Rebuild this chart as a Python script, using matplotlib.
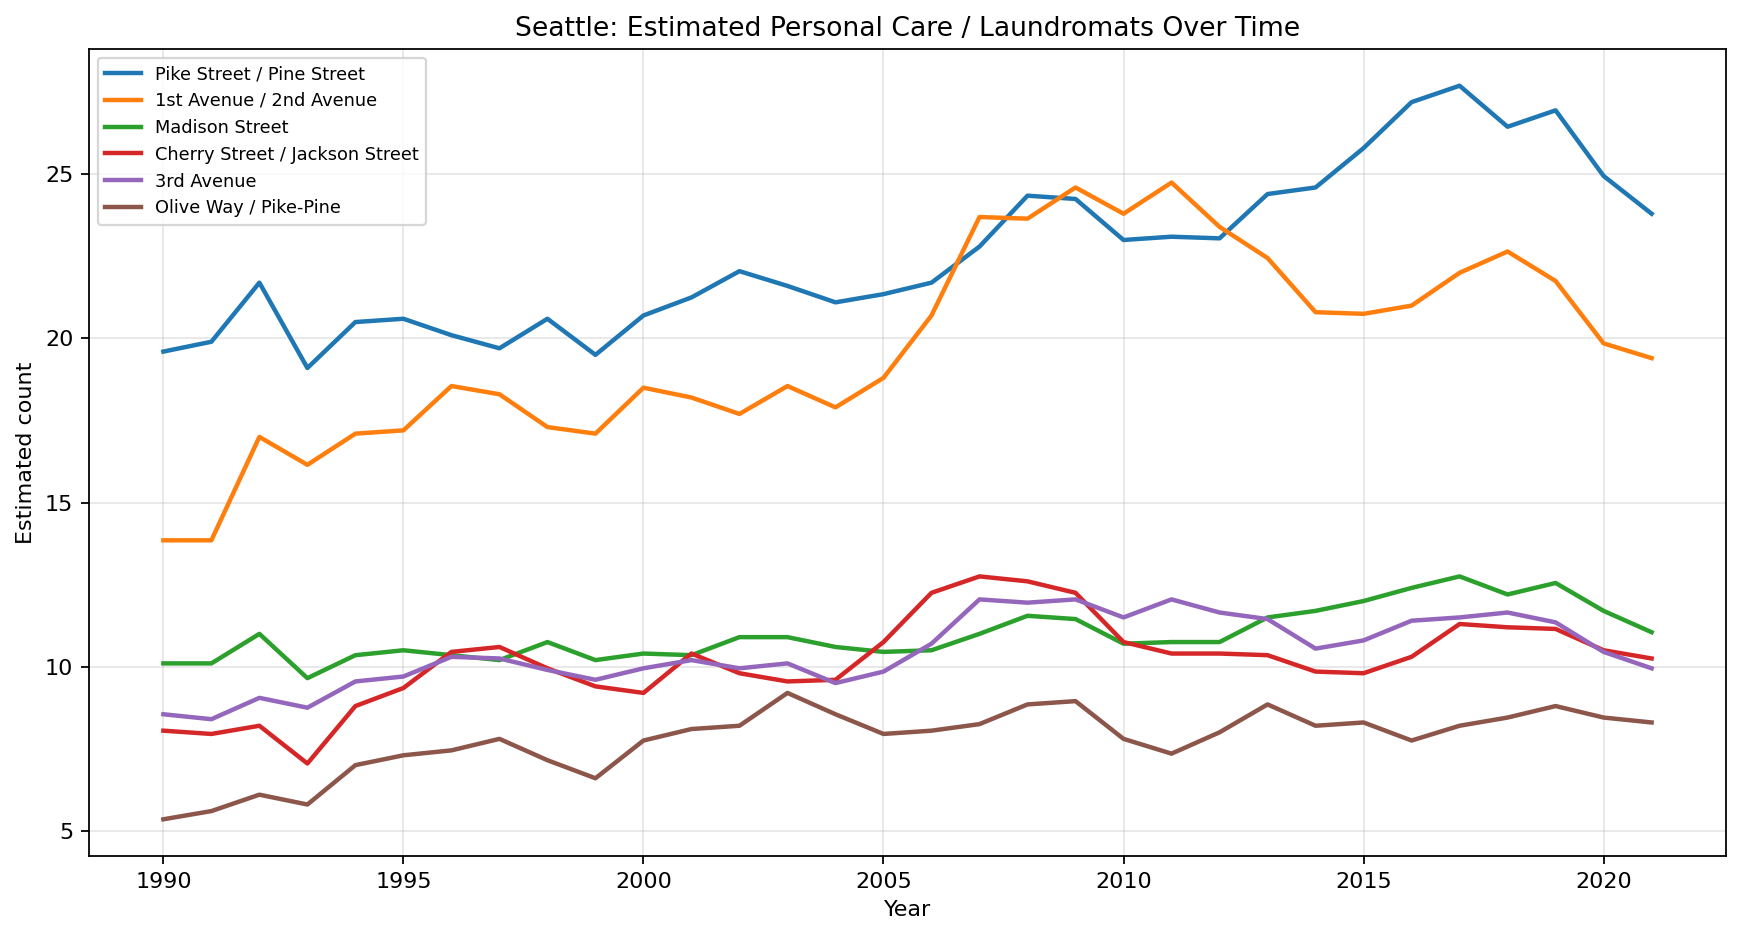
import matplotlib
matplotlib.use("Agg")
import matplotlib.pyplot as plt

years = list(range(1990, 2022))

pike = [19.6, 19.9, 21.7, 19.1, 20.5, 20.6, 20.1, 19.7, 20.6, 19.5, 20.7, 21.25,
        22.05, 21.6, 21.1, 21.35, 21.7, 22.8, 24.35, 24.25, 23.0, 23.1, 23.05, 24.4,
        24.6, 25.8, 27.2, 27.7, 26.45, 26.95, 24.95, 23.8]
first_ave = [13.85, 13.85, 17.0, 16.15, 17.1, 17.2, 18.55, 18.3, 17.3, 17.1, 18.5, 18.2,
             17.7, 18.55, 17.9, 18.8, 20.7, 23.7, 23.65, 24.6, 23.8, 24.75, 23.4, 22.45,
             20.8, 20.75, 21.0, 22.0, 22.65, 21.75, 19.85, 19.4]
madison = [10.1, 10.1, 11.0, 9.65, 10.35, 10.5, 10.35, 10.2, 10.75, 10.2, 10.4, 10.35,
           10.9, 10.9, 10.6, 10.45, 10.5, 11.0, 11.55, 11.45, 10.7, 10.75, 10.75, 11.5,
           11.7, 12.0, 12.4, 12.75, 12.2, 12.55, 11.7, 11.05]
cherry = [8.05, 7.95, 8.2, 7.05, 8.8, 9.35, 10.45, 10.6, 9.95, 9.4, 9.2, 10.4,
          9.8, 9.55, 9.6, 10.75, 12.25, 12.75, 12.6, 12.25, 10.75, 10.4, 10.4, 10.35,
          9.85, 9.8, 10.3, 11.3, 11.2, 11.15, 10.5, 10.25]
third_ave = [8.55, 8.4, 9.05, 8.75, 9.55, 9.7, 10.3, 10.25, 9.9, 9.6, 9.95, 10.2,
             9.95, 10.1, 9.5, 9.85, 10.7, 12.05, 11.95, 12.05, 11.5, 12.05, 11.65, 11.45,
             10.55, 10.8, 11.4, 11.5, 11.65, 11.35, 10.45, 9.95]
olive = [5.35, 5.6, 6.1, 5.8, 7.0, 7.3, 7.45, 7.8, 7.15, 6.6, 7.75, 8.1,
         8.2, 9.2, 8.55, 7.95, 8.05, 8.25, 8.85, 8.95, 7.8, 7.35, 8.0, 8.85,
         8.2, 8.3, 7.75, 8.2, 8.45, 8.8, 8.45, 8.3]

labels = ["Pike Street / Pine Street", "1st Avenue / 2nd Avenue", "Madison Street",
          "Cherry Street / Jackson Street", "3rd Avenue", "Olive Way / Pike-Pine"]
series = [pike, first_ave, madison, cherry, third_ave, olive]

DPI = 160
fig, ax = plt.subplots(figsize=(1741 / DPI, 936 / DPI), dpi=DPI)
for lab, vals in zip(labels, series):
    ax.plot(years, vals, linewidth=2, label=lab)

ax.set_title("Seattle: Estimated Personal Care / Laundromats Over Time", fontsize=12)
ax.set_xlabel("Year")
ax.set_ylabel("Estimated count")
ax.grid(True, alpha=0.3)
ax.legend(loc="upper left", fontsize=8)
fig.subplots_adjust(left=0.0511, right=0.9914, top=0.9476, bottom=0.0855)
fig.savefig("out.png", dpi=DPI)
